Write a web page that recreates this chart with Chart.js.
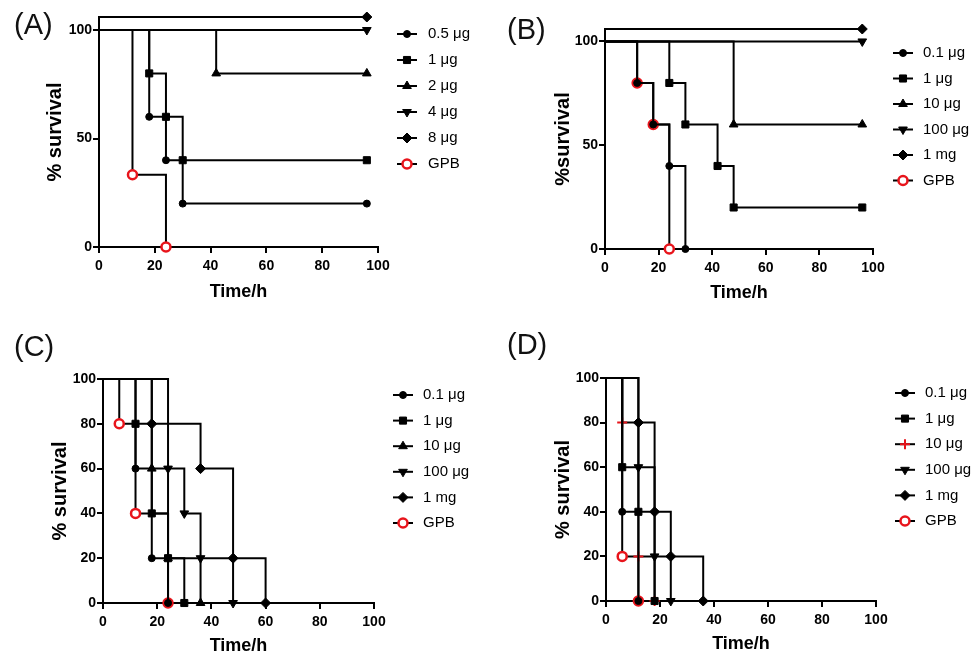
<!DOCTYPE html>
<html>
<head>
<meta charset="utf-8">
<script src="https://cdn.jsdelivr.net/npm/chart.js@4.4.0/dist/chart.umd.min.js"></script>
<style>
html, body { margin: 0; padding: 0; background: #fff; }
#wrap { position: relative; width: 973px; height: 657px; overflow: hidden; }
canvas { position: absolute; }
.tag { position: absolute; font: 29px "Liberation Sans", Arial, sans-serif; line-height: 1; color: #111; }
</style>
</head>
<body>
<div id="wrap">
  <canvas id="chartA" width="486" height="330" style="left:0;top:0"></canvas>
  <canvas id="chartB" width="483" height="330" style="left:490px;top:0"></canvas>
  <canvas id="chartC" width="486" height="327" style="left:0;top:330px"></canvas>
  <canvas id="chartD" width="483" height="327" style="left:490px;top:330px"></canvas>
  <div class="tag" style="left:14px;top:10px">(A)</div>
  <div class="tag" style="left:507px;top:15px">(B)</div>
  <div class="tag" style="left:14px;top:332px">(C)</div>
  <div class="tag" style="left:507px;top:330px">(D)</div>
</div>
<script>
// DATA
const timeTicks = [0, 20, 40, 60, 80, 100];
const survivalTicksAB = [0, 50, 100];
const survivalTicksCD = [0, 20, 40, 60, 80, 100];

// (A)
const aLabels = ['0.5 μg', '1 μg', '2 μg', '4 μg', '8 μg', 'GPB'];
const aTimes = [[0, 18, 24, 30, 96], [0, 18, 24, 30, 96], [0, 42, 96], [0, 96], [0, 96], [0, 12, 24]];
const aSurvival = [[100, 60, 40, 20, 20], [100, 80, 60, 40, 40], [100, 80, 80], [100, 100], [106, 106], [100, 33.3, 0]];

// (B)
const bLabels = ['0.1 μg', '1 μg', '10 μg', '100 μg', '1 mg', 'GPB'];
const bTimes = [[0, 12, 18, 24, 30], [0, 24, 30, 42, 48, 96], [0, 48, 96], [0, 96], [0, 96], [0, 12, 18, 24]];
const bSurvival = [[100, 80, 60, 40, 0], [100, 80, 60, 40, 20, 20], [100, 60, 60], [100, 100], [106, 106], [100, 80, 60, 0]];

// (C)
const cLabels = ['0.1 μg', '1 μg', '10 μg', '100 μg', '1 mg', 'GPB'];
const cTimes = [[0, 12, 18, 24], [0, 12, 18, 24, 30], [0, 18, 24, 36], [0, 24, 30, 36, 48], [0, 18, 36, 48, 60], [0, 6, 12, 24]];
const cSurvival = [[100, 60, 20, 0], [100, 80, 40, 20, 0], [100, 60, 20, 0], [100, 60, 40, 20, 0], [100, 80, 60, 20, 0], [100, 80, 40, 0]];

// (D)
const dLabels = ['0.1 μg', '1 μg', '10 μg', '100 μg', '1 mg', 'GPB'];
const dTimes = [[0, 6, 12], [0, 6, 12, 18], [0, 6, 12, 18], [0, 12, 18, 24], [0, 12, 18, 24, 36], [0, 6, 12]];
const dSurvival = [[100, 40, 0], [100, 60, 40, 0], [100, 80, 20, 0], [100, 60, 20, 0], [100, 80, 40, 20, 0], [100, 20, 0]];

// MARKERS
const RED = '#e8141b';
const markers = {
    circle:  { pointStyle: 'circle',   radius: 3.5, rotation: 0,   fill: '#000', stroke: '#000', width: 1 },
    square:  { pointStyle: 'rect',     radius: 5,   rotation: 0,   fill: '#000', stroke: '#000', width: 1 },
    up:      { pointStyle: 'triangle', radius: 5,   rotation: 0,   fill: '#000', stroke: '#000', width: 1 },
    down:    { pointStyle: 'triangle', radius: 5,   rotation: 180, fill: '#000', stroke: '#000', width: 1 },
    diamond: { pointStyle: 'rectRot',  radius: 5,   rotation: 0,   fill: '#000', stroke: '#000', width: 1 },
    plus:    { pointStyle: 'cross',    radius: 5,   rotation: 0,   fill: RED,    stroke: RED,    width: 2 },
    gpb:     { pointStyle: 'circle',   radius: 4.5, rotation: 0,   fill: '#fff', stroke: RED,    width: 2.5 }
};
const stylesABC = ['circle', 'square', 'up', 'down', 'diamond', 'gpb'];
const stylesD = ['circle', 'square', 'plus', 'down', 'diamond', 'gpb'];

const FAMILY = '"Liberation Sans", Arial, sans-serif';

// LEGEND (line + marker + label, right side)
const sideLegend = {
    id: 'sideLegend',
    afterDraw(chart, args, opts) {
        const ctx = chart.ctx;
        ctx.save();
        chart.data.datasets.forEach((ds, i) => {
            const m = ds.marker;
            const y = opts.y + i * opts.dy;
            ctx.strokeStyle = '#000';
            ctx.lineWidth = 2;
            ctx.beginPath();
            ctx.moveTo(opts.x - 10, y);
            ctx.lineTo(opts.x + 10, y);
            ctx.stroke();
            ctx.fillStyle = m.fill;
            ctx.strokeStyle = m.stroke;
            ctx.lineWidth = m.width;
            Chart.helpers.drawPoint(ctx, { pointStyle: m.pointStyle, radius: m.radius, rotation: m.rotation, borderWidth: m.width }, opts.x, y);
            ctx.fillStyle = '#000';
            ctx.font = '15px ' + FAMILY;
            ctx.textBaseline = 'middle';
            ctx.textAlign = 'left';
            ctx.fillText(ds.label, opts.tx, y);
        });
        ctx.restore();
    }
};

function makeChart(id, labels, times, survival, styles, o) {
    const datasets = labels.map((label, i) => {
        const m = markers[styles[i]];
        return {
            label: label,
            data: times[i].map((t, j) => ({ x: t, y: survival[i][j] })),
            showLine: true,
            stepped: true,
            borderColor: '#000',
            borderWidth: 2,
            pointStyle: m.pointStyle,
            pointRotation: m.rotation,
            pointRadius: c => c.dataIndex === 0 ? 0 : m.radius,
            pointBackgroundColor: m.fill,
            pointBorderColor: m.stroke,
            pointBorderWidth: m.width,
            clip: false,
            marker: m
        };
    });

    const tickFont = { family: FAMILY, size: 14, weight: 'bold' };

    return new Chart(document.getElementById(id), {
        type: 'scatter',
        data: { datasets: datasets },
        options: {
            responsive: false,
            animation: false,
            events: [],
            layout: { padding: { left: 0, right: o.pr, top: o.pt, bottom: 0 } },
            plugins: {
                legend: { display: false },
                tooltip: { enabled: false },
                sideLegend: o.legend
            },
            scales: {
                x: {
                    type: 'linear', min: 0, max: 100,
                    afterBuildTicks: s => { s.ticks = timeTicks.map(v => ({ value: v })); },
                    afterFit: s => { s.height = o.xh; },
                    border: { color: '#000', width: 2 },
                    grid: { drawOnChartArea: false, color: '#000', lineWidth: 2, tickLength: 6 },
                    ticks: { color: '#000', font: tickFont, padding: 5, maxRotation: 0, autoSkip: false },
                    title: { display: true, text: 'Time/h', color: '#000',
                             font: { family: FAMILY, size: 18, weight: 'bold' },
                             padding: { top: 0, bottom: o.xtp } }
                },
                y: {
                    type: 'linear', min: 0, max: o.ymax,
                    afterBuildTicks: s => { s.ticks = o.yticks.map(v => ({ value: v })); },
                    afterFit: s => { s.width = o.yw; },
                    border: { color: '#000', width: 2 },
                    grid: { drawOnChartArea: false, color: '#000', lineWidth: 2, tickLength: 6 },
                    ticks: { color: '#000', font: tickFont, padding: 1, autoSkip: false },
                    title: { display: true, text: o.ytitle, color: '#000',
                             font: { family: FAMILY, size: 20, weight: 'bold' },
                             padding: { top: o.ytp, bottom: 0 } }
                }
            }
        },
        plugins: [sideLegend]
    });
}

makeChart('chartA', aLabels, aTimes, aSurvival, stylesABC, {
    pr: 108, pt: 17, xh: 83, xtp: 27, yw: 99, ytp: 43, ymax: 106,
    yticks: survivalTicksAB, ytitle: '% survival',
    legend: { x: 407, tx: 428, y: 34, dy: 26 }
});
makeChart('chartB', bLabels, bTimes, bSurvival, stylesABC, {
    pr: 100, pt: 29, xh: 81, xtp: 26, yw: 115, ytp: 61, ymax: 106,
    yticks: survivalTicksAB, ytitle: '%survival',
    legend: { x: 413, tx: 433, y: 53, dy: 25.5 }
});
makeChart('chartC', cLabels, cTimes, cSurvival, stylesABC, {
    pr: 112, pt: 49, xh: 54, xtp: 0, yw: 103, ytp: 48, ymax: 100,
    yticks: survivalTicksCD, ytitle: '% survival',
    legend: { x: 403, tx: 423, y: 65, dy: 25.6 }
});
makeChart('chartD', dLabels, dTimes, dSurvival, stylesD, {
    pr: 97, pt: 48, xh: 56, xtp: 2, yw: 116, ytp: 61, ymax: 100,
    yticks: survivalTicksCD, ytitle: '% survival',
    legend: { x: 415, tx: 435, y: 63, dy: 25.6 }
});
</script>
</body>
</html>
